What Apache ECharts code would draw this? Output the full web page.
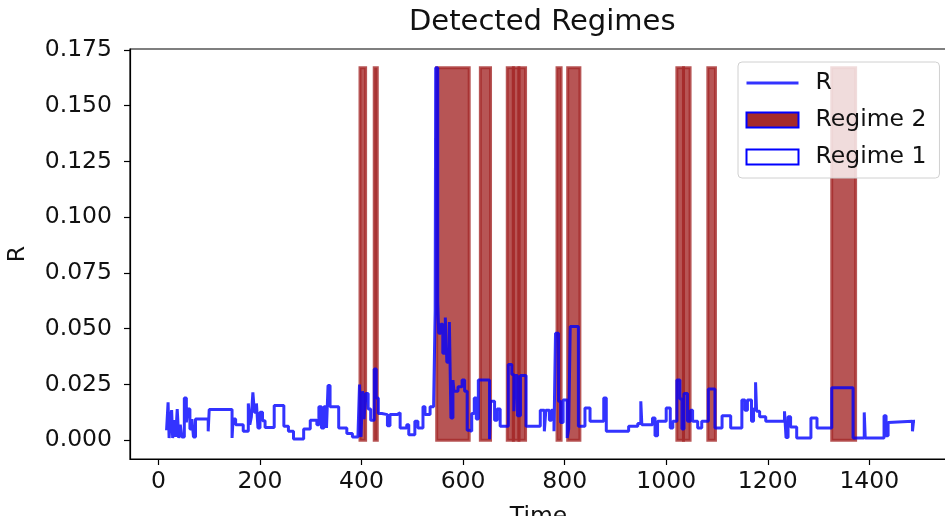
<!DOCTYPE html>
<html>
<head>
<meta charset="utf-8">
<script src="https://cdn.jsdelivr.net/npm/echarts@6/dist/echarts.min.js"></script>
<style>
  html, body { margin: 0; padding: 0; background: #fff; }
  #chart { width: 945px; height: 516px; }
</style>
</head>
<body>
<div id="chart"></div>
<script>
// R signal, step-post: value holds from times[i] until times[i+1]
const times = [
  16, 19, 21, 23, 26, 28, 31, 34, 37, 40, 43, 46, 51, 55, 58, 62, 66, 69, 73, 98,
  100, 145, 147, 152, 167, 177, 180, 183, 186, 189, 193, 196, 200, 205, 210, 228, 247, 256, 266, 286,
  299, 312, 316, 321, 326, 331, 334, 338, 355, 371, 382, 393, 396, 399, 402, 405, 408, 413, 418, 425,
  429, 433, 440, 451, 456, 470, 476, 489, 493, 505, 511, 521, 525, 535, 542, 545, 546, 550, 552, 556,
  560, 565, 568, 573, 576, 580, 582, 590, 598, 603, 608, 613, 617, 622, 626, 630, 652, 654, 662, 667,
  673, 689, 696, 700, 703, 707, 713, 724, 752, 760, 763, 770, 774, 779, 782, 788, 792, 797, 805, 808,
  811, 827, 840, 850, 877, 882, 926, 944, 950, 952, 973, 978, 983, 1000, 1008, 1013, 1021, 1027, 1031, 1035,
  1042, 1048, 1052, 1062, 1070, 1083, 1096, 1110, 1127, 1149, 1155, 1160, 1168, 1172, 1176, 1178, 1184, 1196, 1233, 1236,
  1240, 1245, 1257, 1285, 1297, 1326, 1368, 1390, 1392, 1429, 1433, 1437, 1440, 1485, 1487, 1490
];
const rValues = [
  0.0045, 0.017, 0.001, 0.008, 0.0135, 0.001, 0.009, 0.0015, 0.014, 0.001, 0.007, 0.0015, 0.019, 0.008, 0.014, 0.005, 0.0095, 0.0015, 0.0095, 0.004,
  0.0138, 0.001, 0.0095, 0.007, 0.004, 0.0165, 0.007, 0.0105, 0.0215, 0.0126, 0.0165, 0.0055, 0.0126, 0.0087, 0.0057, 0.0156, 0.0063, 0.004, 0.0006, 0.005,
  0.009, 0.007, 0.015, 0.0055, 0.015, 0.0055, 0.0245, 0.015, 0.0055, 0.003, 0.0015, 0.0025, 0.025, 0.0015, 0.022, 0.0095, 0.021, 0.014, 0.009, 0.032,
  0.019, 0.012, 0.0115, 0.0065, 0.0115, 0.0123, 0.0055, 0.007, 0.0025, 0.0085, 0.0055, 0.015, 0.0115, 0.015, 0.0165, 0.058, 0.167, 0.062, 0.048, 0.052,
  0.039, 0.055, 0.035, 0.053, 0.01, 0.027, 0.022, 0.024, 0.027, 0.022, 0.0045, 0.004, 0.012, 0.019, 0.0095, 0.027, 0.0005, 0.0175, 0.009, 0.014,
  0.0063, 0.034, 0.0295, 0.013, 0.029, 0.011, 0.029, 0.0063, 0.0135, 0.004, 0.0135, 0.009, 0.0135, 0.004, 0.048, 0.0175, 0.008, 0.018, 0.001, 0.005,
  0.051, 0.0063, 0.0145, 0.0085, 0.019, 0.004, 0.0063, 0.0075, 0.0175, 0.007, 0.01, 0.002, 0.0085, 0.0145, 0.0055, 0.0085, 0.027, 0.0185, 0.005, 0.021,
  0.0085, 0.0135, 0.0085, 0.0055, 0.0085, 0.023, 0.0055, 0.011, 0.0055, 0.018, 0.0135, 0.018, 0.0085, 0.014, 0.026, 0.013, 0.0105, 0.0085, 0.013, 0.0012,
  0.0105, 0.006, 0.001, 0.01, 0.0055, 0.0235, 0.001, 0.0125, 0.001, 0.011, 0.002, 0.008, 0.0085, 0.004, 0.0085, 0.0085
];

// regime 2 spans [start, end], drawn from 0 up to the max of R
const regime2Starts = [397, 425, 548, 634, 687, 699, 710, 785, 806, 1021, 1034, 1082, 1326];
const regime2Ends   = [408, 431, 612, 654, 699, 710, 723, 793, 830, 1034, 1047, 1097, 1373];
const regimeTop = 0.167;

const xTicks = [0, 200, 400, 600, 800, 1000, 1200, 1400];
const yTicks = [0, 0.025, 0.05, 0.075, 0.1, 0.125, 0.15, 0.175];

const FONT = 'DejaVu Sans';
const FS = 23.5;

const chart = echarts.init(document.getElementById('chart'), null, { renderer: 'canvas' });

chart.setOption({
  animation: false,
  title: {
    text: 'Detected Regimes',
    left: 404,
    top: 3,
    textStyle: { fontFamily: FONT, fontSize: 29, fontWeight: 'normal', color: '#111' },
  },
  grid: {
    left: 130,
    top: 49,
    width: 817,
    height: 410,
    outerBoundsMode: 'none',
    containLabel: false,
    show: true,
    borderColor: '#000',
    borderWidth: 1.2,
    backgroundColor: 'transparent',
  },
  legend: {
    orient: 'vertical',
    left: 738,
    top: 62,
    padding: [9, 13, 9, 7],
    itemWidth: 52,
    itemHeight: 15,
    itemGap: 13,
    backgroundColor: 'rgba(255,255,255,0.8)',
    borderColor: '#d0d0d0',
    borderWidth: 1,
    borderRadius: 4,
    textStyle: { fontFamily: FONT, fontSize: FS, color: '#111', padding: [0, 0, 0, 12] },
    data: [
      { name: 'R', itemStyle: { opacity: 0 }, lineStyle: { width: 3, color: 'rgba(0,0,255,0.8)' } },
      { name: 'Regime 2', icon: 'rect', itemStyle: { color: '#a52a2a', borderColor: '#0000ff', borderWidth: 2 } },
      { name: 'Regime 1', icon: 'rect', itemStyle: { color: '#ffffff', borderColor: '#0000ff', borderWidth: 2 } },
    ],
  },
  xAxis: {
    type: 'value',
    min: -56,
    max: 1553,
    name: 'Time',
    nameLocation: 'middle',
    nameGap: 46,
    nameTextStyle: { fontFamily: FONT, fontSize: FS, color: '#111' },
    splitLine: { show: false },
    axisLine: { show: true, onZero: false, lineStyle: { color: '#000', width: 1.2 } },
    axisTick: { show: true, length: 6, lineStyle: { color: '#000', width: 1.2 }, customValues: xTicks },
    axisLabel: {
      fontFamily: FONT, fontSize: FS, color: '#111', margin: 11, customValues: xTicks,
      formatter: (v) => String(v),
    },
  },
  yAxis: {
    type: 'value',
    min: -0.0084,
    max: 0.1754,
    name: 'R',
    nameLocation: 'middle',
    nameRotate: 90,
    nameGap: 100,
    nameTextStyle: { fontFamily: FONT, fontSize: FS, color: '#111' },
    splitLine: { show: false },
    axisLine: { show: true, onZero: false, lineStyle: { color: '#000', width: 1.2 } },
    axisTick: { show: true, length: 6, lineStyle: { color: '#000', width: 1.2 }, customValues: yTicks },
    axisLabel: {
      fontFamily: FONT, fontSize: FS, color: '#111', margin: 18, customValues: yTicks,
      formatter: (v) => v.toFixed(3),
    },
  },
  series: [
    {
      name: 'Regime 2',
      type: 'custom',
      z: 2,
      clip: true,
      data: regime2Starts.map((s, i) => [s, regime2Ends[i]]),
      renderItem: (params, api) => {
        const p0 = api.coord([api.value(0), regimeTop]);
        const p1 = api.coord([api.value(1), 0]);
        return {
          type: 'rect',
          shape: { x: p0[0], y: p0[1], width: p1[0] - p0[0], height: p1[1] - p0[1] },
          style: { fill: 'rgba(165,42,42,0.8)', stroke: 'rgba(165,42,42,0.8)', lineWidth: 3 },
        };
      },
      itemStyle: { color: '#a52a2a', borderColor: '#0000ff' },
    },
    {
      name: 'Regime 1',
      type: 'custom',
      data: [],
      renderItem: () => null,
      itemStyle: { color: '#ffffff', borderColor: '#0000ff' },
    },
    {
      name: 'R',
      type: 'line',
      z: 5,
      step: 'end',
      symbol: 'none',
      showSymbol: false,
      data: times.map((t, i) => [t, rValues[i]]),
      lineStyle: { color: 'rgba(0,0,255,0.8)', width: 3 },
      itemStyle: { color: 'rgba(0,0,255,0.8)' },
    },
  ],
});
</script>
</body>
</html>
